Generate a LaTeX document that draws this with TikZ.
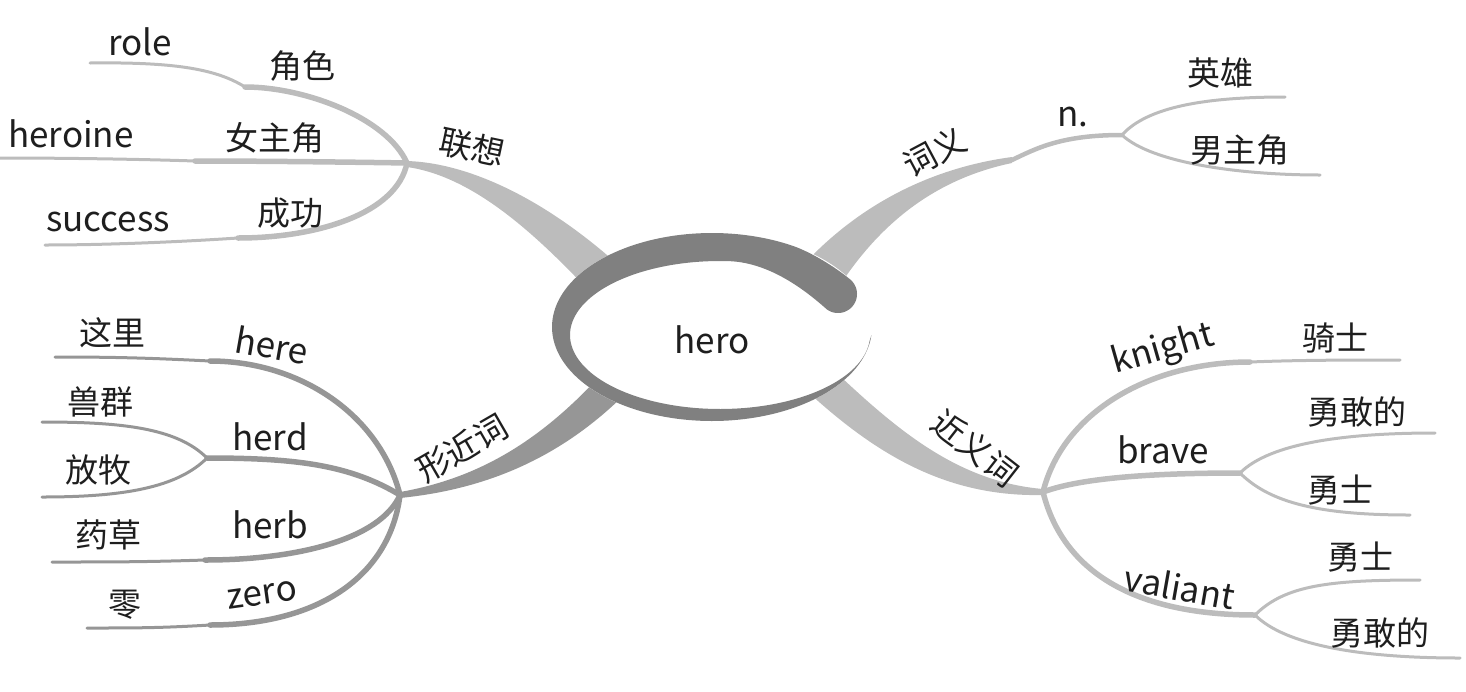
\documentclass[tikz,border=0pt]{standalone}
\usepackage{fontspec}
\setmainfont{Noto Sans CJK SC}
\definecolor{lightbr}{RGB}{188,188,188}
\definecolor{darkbr}{RGB}{150,150,150}
\definecolor{ringc}{RGB}{128,128,128}
\definecolor{txtc}{RGB}{30,30,30}
\tikzset{
  lbl/.style={text=txtc, inner sep=0pt, font=\fontsize{33}{38}\selectfont},
  lat/.style={text=txtc, inner sep=0pt, font=\fontsize{35}{40}\selectfont},
  thick branch/.style={line width=5.5pt, line cap=round},
  thin branch/.style={line width=3pt, line cap=round},
}
\begin{document}
\begin{tikzpicture}[x=1pt,y=-1pt]
\useasboundingbox (0,0) rectangle (1466,691);
% junctions and kinks
\coordinate (J1) at (407,163);
\coordinate (Krole) at (245,87);   \coordinate (Erole) at (90,63);
\coordinate (Kheroine) at (195,161); \coordinate (Eheroine) at (0,158);
\coordinate (Ksucc) at (238,238);  \coordinate (Esucc) at (45,245);
\coordinate (K2) at (1012,160);
\coordinate (Jn) at (1122,135);
\coordinate (Eyx) at (1285,97);    \coordinate (Enzj) at (1320,175);
\coordinate (J3) at (400,495);
\coordinate (Khere) at (210,361);  \coordinate (Ehere) at (55,357);
\coordinate (Kherd) at (207,458);  \coordinate (Eshq) at (42,422); \coordinate (Efm) at (42,497);
\coordinate (Kherb) at (205,560);  \coordinate (Eherb) at (52,562);
\coordinate (Kzero) at (210,625);  \coordinate (Ezero) at (87,628);
\coordinate (J4) at (1043,492);
\coordinate (Kkn) at (1250,362);   \coordinate (Ekn) at (1400,360);
\coordinate (Kbr) at (1240,473);   \coordinate (Ebr1) at (1435,433); \coordinate (Ebr2) at (1410,515);
\coordinate (Kva) at (1255,615);   \coordinate (Eva1) at (1420,580); \coordinate (Eva2) at (1460,658);

% trunks (tapered)
\fill[lightbr] (407,161) .. controls (470,163) and (545,200) .. (615,262)
   -- (590,292) .. controls (530,228) and (470,176) .. (407,167) -- cycle;
\fill[lightbr] (806,262) .. controls (860,205) and (930,168) .. (1012,157)
   -- (1012,163) .. controls (940,178) and (885,218) .. (842,282) -- cycle;
\fill[darkbr] (400,492) .. controls (480,478) and (540,440) .. (598,378)
   -- (622,397) .. controls (555,462) and (480,490) .. (400,498) -- cycle;
\fill[lightbr] (842,378) .. controls (900,432) and (960,482) .. (1043,489)
   -- (1043,495) .. controls (950,497) and (880,458) .. (808,392) -- cycle;

% upper left branches
\begin{scope}[draw=lightbr]
\draw[thick branch] (J1) .. controls +(-20,-45) and +(60,0) .. (Krole);
\draw[thin branch] (Krole) .. controls +(-30,-19) and +(80,-1) .. (Erole);
\draw[thick branch] (J1) .. controls +(-60,-1) and +(60,0) .. (Kheroine);
\draw[thin branch] (Kheroine) .. controls +(-60,-2) and +(60,0) .. (Eheroine);
\draw[thick branch] (J1) .. controls +(-10,50) and +(80,0) .. (Ksucc);
\draw[thin branch] (Ksucc) .. controls +(-60,4) and +(60,0) .. (Esucc);
% upper right
\draw[line width=4.5pt, line cap=round] (K2) .. controls +(25,-12) and +(-60,0) .. (Jn);
\draw[thin branch] (Jn) .. controls +(25,-28) and +(-80,0) .. (Eyx);
\draw[thin branch] (Jn) .. controls +(30,28) and +(-80,0) .. (Enzj);
% lower right
\draw[thick branch] (J4) .. controls +(20,-80) and +(-100,0) .. (Kkn);
\draw[thin branch] (Kkn) .. controls +(50,-2) and +(-50,0) .. (Ekn);
\draw[thick branch] (J4) .. controls +(40,-15) and +(-80,0) .. (Kbr);
\draw[thin branch] (Kbr) .. controls +(30,-30) and +(-90,0) .. (Ebr1);
\draw[thin branch] (Kbr) .. controls +(30,30) and +(-90,0) .. (Ebr2);
\draw[thick branch] (J4) .. controls +(20,80) and +(-120,0) .. (Kva);
\draw[thin branch] (Kva) .. controls +(30,-30) and +(-90,0) .. (Eva1);
\draw[thin branch] (Kva) .. controls +(30,30) and +(-100,0) .. (Eva2);
\end{scope}
% lower left
\begin{scope}[draw=darkbr]
\draw[thick branch] (J3) .. controls +(-20,-80) and +(90,0) .. (Khere);
\draw[thin branch] (Khere) .. controls +(-60,-3) and +(60,0) .. (Ehere);
\draw[thick branch] (J3) .. controls +(-50,-30) and +(90,0) .. (Kherd);
\draw[thin branch] (Kherd) .. controls +(-30,-30) and +(80,0) .. (Eshq);
\draw[thin branch] (Kherd) .. controls +(-30,30) and +(80,0) .. (Efm);
\draw[thick branch] (J3) .. controls +(-20,45) and +(90,0) .. (Kherb);
\draw[thin branch] (Kherb) .. controls +(-60,2) and +(60,0) .. (Eherb);
\draw[thick branch] (J3) .. controls +(-10,80) and +(110,0) .. (Kzero);
\draw[thin branch] (Kzero) .. controls +(-50,3) and +(50,0) .. (Ezero);
\end{scope}

% central ring
\fill[white] (712,327) ellipse [x radius=160, y radius=94];
\fill[ringc]
  plot[domain=-60:-355, samples=150] ({712+160*cos(\x)},{327+94*sin(\x)})
  -- plot[domain=-355:-86.2, samples=150] ({720+150*cos(\x)},{335+74*sin(\x)})
  .. controls (770,263) and (805,290) .. (826.2,308.8)
  -- plot[domain=128.5:-51.5, samples=40] ({838+19*cos(\x)},{294+19*sin(\x)})
  .. controls (835,267) and (811,252) .. cycle;
\node[lat] (hero) at (712,340) {hero};

% labels
\node[lat] (role) at (140,42) {role};
\node[lbl] (juese) at (302,66) {角色};
\node[lat] (heroine) at (71,134) {heroine};
\node[lbl] (nvzhujue) at (275,138) {女主角};
\node[lat] (success) at (108,222) {success};
\node[lbl] (chenggong) at (290,213) {成功};
\node[lbl, rotate=-12] (lianxiang) at (472,147) {联想};

\node[lbl, rotate=28] (ciyi) at (935,152) {词义};
\node[lat] (n) at (1073,117) {n.};
\node[lbl] (yingxiong) at (1220,73) {英雄};
\node[lbl] (nanzhujue) at (1240,150) {男主角};

\node[lbl, rotate=30] (xingjinci) at (462,448) {形近词};
\node[lbl] (zheli) at (112,333) {这里};
\node[lat, rotate=-10] (here) at (272,345) {here};
\node[lbl] (shouqun) at (100,402) {兽群};
\node[lat] (herd) at (270,437) {herd};
\node[lbl] (fangmu) at (98,470) {放牧};
\node[lbl] (yaocao) at (108,535) {药草};
\node[lat] (herb) at (270,525) {herb};
\node[lbl] (ling) at (125,605) {零};
\node[lat, rotate=8] (zero) at (262,595) {zero};

\node[lbl, rotate=-38] (jinyici) at (975,448) {近义词};
\node[lat, rotate=16] (knight) at (1163,350) {knight};
\node[lbl] (qishi) at (1335,338) {骑士};
\node[lat] (brave) at (1163,450) {brave};
\node[lbl] (ygd1) at (1357,412) {勇敢的};
\node[lbl] (yongshi1) at (1340,490) {勇士};
\node[lat, rotate=-10] (valiant) at (1180,587) {valiant};
\node[lbl] (yongshi2) at (1360,557) {勇士};
\node[lbl] (ygd2) at (1380,633) {勇敢的};
\end{tikzpicture}
\end{document}
